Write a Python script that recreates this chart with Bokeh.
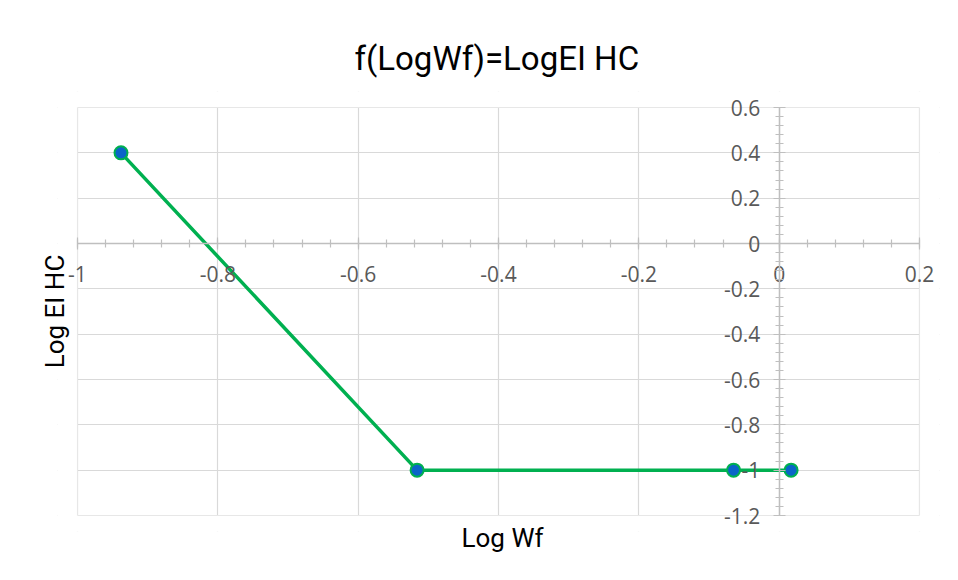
from bokeh.plotting import figure
from bokeh.models import (FixedTicker, CustomJSTickFormatter, Title,
                          ColumnDataSource, Range1d, BoxAnnotation)
from bokeh.embed import file_html
from bokeh.resources import INLINE
import numpy as np

# ---- data ----
log_wf = [-0.938, -0.516, -0.065, 0.017]
log_ei_hc = [0.4, -1.0, -1.0, -1.0]

x_ticks = [-1.0, -0.8, -0.6, -0.4, -0.2, 0.0, 0.2]
y_ticks = [-1.2, -1.0, -0.8, -0.6, -0.4, -0.2, 0.0, 0.2, 0.4, 0.6]

chart_title = "f(LogWf)=LogEI HC"
x_title = "Log Wf"
y_title = "Log EI HC"

x_minor = [round(v, 2) for v in np.arange(x_ticks[0], x_ticks[-1] + 1e-6, 0.04)]
y_minor = [round(v, 2) for v in np.arange(y_ticks[0], y_ticks[-1] + 1e-6, 0.04)]

# ---- layout (pixels) ----
W, H = 942, 564
AREA_L, AREA_R, AREA_T, AREA_B = 77, 919, 107, 515   # plot area box
PAD_X, PAD_Y = 20, 16                                 # room so end tick labels are not clipped

xs = (x_ticks[-1] - x_ticks[0]) / (AREA_R - AREA_L)
ys = (y_ticks[-1] - y_ticks[0]) / (AREA_B - AREA_T)
x_range = Range1d(x_ticks[0] - PAD_X * xs, x_ticks[-1] + PAD_X * xs)
y_range = Range1d(y_ticks[0] - PAD_Y * ys, y_ticks[-1] + PAD_Y * ys)

src = ColumnDataSource(dict(x=log_wf, y=log_ei_hc))

p = figure(width=W, height=H, x_range=x_range, y_range=y_range,
           output_backend="svg", toolbar_location=None,
           min_border_left=AREA_L - PAD_X, min_border_right=W - AREA_R - PAD_X,
           min_border_top=AREA_T - PAD_Y, min_border_bottom=H - AREA_B - PAD_Y)

p.background_fill_color = "white"
p.border_fill_color = "white"
p.outline_line_color = None

fmt = CustomJSTickFormatter(code="return String(Math.round(tick*10)/10);")

p.xaxis.ticker = FixedTicker(ticks=x_ticks, minor_ticks=x_minor)
p.yaxis.ticker = FixedTicker(ticks=y_ticks, minor_ticks=y_minor)
p.xaxis.formatter = fmt
p.yaxis.formatter = fmt
p.xaxis.fixed_location = 0
p.yaxis.fixed_location = 0
p.xaxis.bounds = (x_ticks[0], x_ticks[-1])
p.yaxis.bounds = (y_ticks[0], y_ticks[-1])

for ax in (p.xaxis[0], p.yaxis[0]):
    ax.axis_line_color = "#bfbfbf"
    ax.axis_line_width = 1.5
    ax.major_tick_line_color = "#bfbfbf"
    ax.minor_tick_line_color = "#bfbfbf"
    ax.major_tick_line_width = 1.2
    ax.minor_tick_line_width = 1.2
    ax.major_tick_in = 6
    ax.major_tick_out = 6
    ax.minor_tick_in = 4
    ax.minor_tick_out = 4
    ax.major_label_text_font = "Open Sans"
    ax.major_label_text_font_size = "21px"
    ax.major_label_text_color = "#595959"
p.xaxis.major_label_standoff = 16
p.yaxis.major_label_standoff = 13

p.xgrid.ticker = FixedTicker(ticks=x_ticks)
p.ygrid.ticker = FixedTicker(ticks=y_ticks)
p.xgrid.grid_line_color = "#d9d9d9"
p.ygrid.grid_line_color = "#d9d9d9"
p.xgrid.grid_line_width = 1.2
p.ygrid.grid_line_width = 1.2

# white masks outside the plot area, then the plot-area border
for kw in (dict(right=x_ticks[0]), dict(left=x_ticks[-1]),
           dict(top=y_ticks[0]), dict(bottom=y_ticks[-1])):
    p.add_layout(BoxAnnotation(fill_color="white", fill_alpha=1.0,
                               line_color=None, level="underlay", **kw))
p.add_layout(BoxAnnotation(left=x_ticks[0], right=x_ticks[-1],
                           bottom=y_ticks[0], top=y_ticks[-1],
                           fill_alpha=0, line_color="#d9d9d9", line_width=1.2,
                           level="underlay"))

p.line("x", "y", source=src, line_color="#00b050", line_width=3.5)
p.scatter("x", "y", source=src, size=13, fill_color="#0a64c8",
          line_color="#00b050", line_width=2)

p.add_layout(Title(text=chart_title, align="left", offset=354 - (AREA_L - PAD_X),
                   text_font="Roboto", text_font_size="33px",
                   text_font_style="normal", text_color="black",
                   standoff=28), "above")
p.add_layout(Title(text=x_title, align="left", offset=461 - (AREA_L - PAD_X),
                   text_font="Roboto", text_font_size="26px",
                   text_font_style="normal", text_color="black",
                   standoff=-22), "below")
p.add_layout(Title(text=y_title, align="center", text_font="Roboto",
                   text_font_size="26px", text_font_style="normal",
                   text_color="black", standoff=-24), "left")

open("out.html", "w").write(file_html(p, INLINE))
